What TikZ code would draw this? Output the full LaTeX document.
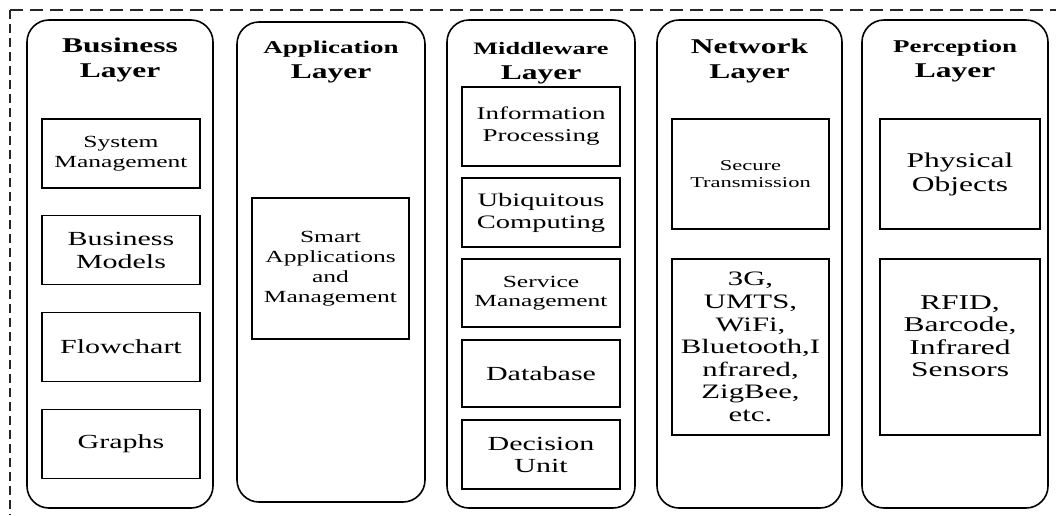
\documentclass[tikz,border=0pt]{standalone}
\usepackage{fontspec}
\usepackage{graphicx}
\setmainfont{Liberation Serif}
\newcommand\wx[1]{\scalebox{1.5}[1]{#1}}
\begin{document}
\begin{tikzpicture}[x=1pt,y=-1pt,
  layerbox/.style={draw=black, line width=1.6pt, rounded corners=22pt, inner sep=0pt},
  ibox/.style={draw=black, line width=1.7pt, inner sep=0pt, align=center},
  ttl/.style={align=center, inner sep=0pt, font=\fontsize{21}{25}\selectfont\bfseries},
  txt/.style={align=center, inner sep=0pt},
  borderline/.style={line width=1.4pt, draw=black!85}
]
\useasboundingbox (0,0) rectangle (1056,515);
% dashed outer frame
\coordinate (tl) at (10,10);
\coordinate (tr) at (1056,10);
\coordinate (bl) at (10,515);
\draw[borderline, dash pattern=on 13pt off 7pt] (tl) -- (tr);
\draw[borderline, dash pattern=on 9pt off 5pt] (tl) -- (bl);

% layer columns
\node[layerbox, minimum width=186pt, minimum height=488pt] (busL) at (120,264) {};
\node[layerbox, minimum width=188pt, minimum height=480pt] (appL) at (331,262) {};
\node[layerbox, minimum width=188pt, minimum height=488pt] (midL) at (541,264) {};
\node[layerbox, minimum width=185pt, minimum height=488pt] (netL) at (749.5,264) {};
\node[layerbox, minimum width=186pt, minimum height=488pt] (perL) at (955,264) {};

% titles
\node[ttl] (busT) at (120,60) {\wx{Business}\\\wx{Layer}};
\node[ttl] (appT) at (331,62) {{\fontsize{18}{25}\selectfont\wx{Application}}\\\wx{Layer}};
\node[ttl] (midT) at (541,63) {{\fontsize{17.5}{22}\selectfont\wx{Middleware}}\\\wx{Layer}};
\node[ttl] (netT) at (749.5,60.5) {\wx{Network}\\\wx{Layer}};
\node[ttl] (perT) at (955,61.5) {{\fontsize{18}{25}\selectfont\wx{Perception}}\\\wx{Layer}};

% business layer
\begin{scope}[every node/.append style={minimum width=158pt, minimum height=69pt}]
\node[ibox, font=\fontsize{17}{20}\selectfont] (sysm) at (121,153.5) {\wx{System}\\\wx{Management}};
\node[ibox, font=\fontsize{20}{23}\selectfont] (bmod) at (121,250) {\wx{Business}\\\wx{Models}};
\node[ibox, font=\fontsize{20}{23}\selectfont] (flow) at (121,347) {\wx{Flowchart}};
\node[ibox, font=\fontsize{20}{23}\selectfont] (grph) at (121,444) {\wx{Graphs}};
\end{scope}

% application layer
\node[ibox, minimum width=157pt, minimum height=141pt, font=\fontsize{17}{20}\selectfont] (smart) at (330.5,268.5) {\wx{Smart}\\\wx{Applications}\\\wx{and}\\\wx{Management}};

% middleware layer
\begin{scope}[every node/.append style={minimum width=158pt}]
\node[ibox, minimum height=79pt, font=\fontsize{18}{22}\selectfont] (info) at (541,126.5) {\wx{Information}\\\wx{Processing}};
\node[ibox, minimum height=69pt, font=\fontsize{19}{22}\selectfont] (ubiq) at (541,212.5) {\wx{Ubiquitous}\\\wx{Computing}};
\node[ibox, minimum height=68pt, font=\fontsize{17}{19}\selectfont] (serv) at (541,293) {\wx{Service}\\\wx{Management}};
\node[ibox, minimum height=67pt, font=\fontsize{20}{23}\selectfont] (dbase) at (541,373.5) {\wx{Database}};
\node[ibox, minimum height=69pt, font=\fontsize{20}{22}\selectfont] (dec) at (541,454.5) {\wx{Decision}\\\wx{Unit}};
\end{scope}

% network layer
\node[ibox, minimum width=157pt, minimum height=110pt, font=\fontsize{15}{17}\selectfont] (sec) at (750.5,174) {\wx{Secure}\\\wx{Transmission}};
\node[ibox, minimum width=157pt, minimum height=176pt, font=\fontsize{20.5}{22.6}\selectfont] (tech) at (750.5,347) {\wx{3G,}\\\wx{UMTS,}\\\wx{WiFi,}\\\wx{Bluetooth,I}\\\wx{nfrared,}\\\wx{ZigBee,}\\\wx{etc.}};

% perception layer
\node[ibox, minimum width=160pt, minimum height=110pt, font=\fontsize{21}{24}\selectfont] (phys) at (960,174) {\wx{Physical}\\\wx{Objects}};
\node[ibox, minimum width=160pt, minimum height=176pt] (rfid) at (960,347) {};
\node[txt, font=\fontsize{21}{22.5}\selectfont, yshift=11pt] (rfidT) at (rfid.center) {\wx{RFID,}\\\wx{Barcode,}\\\wx{Infrared}\\\wx{Sensors}};
\end{tikzpicture}
\end{document}
